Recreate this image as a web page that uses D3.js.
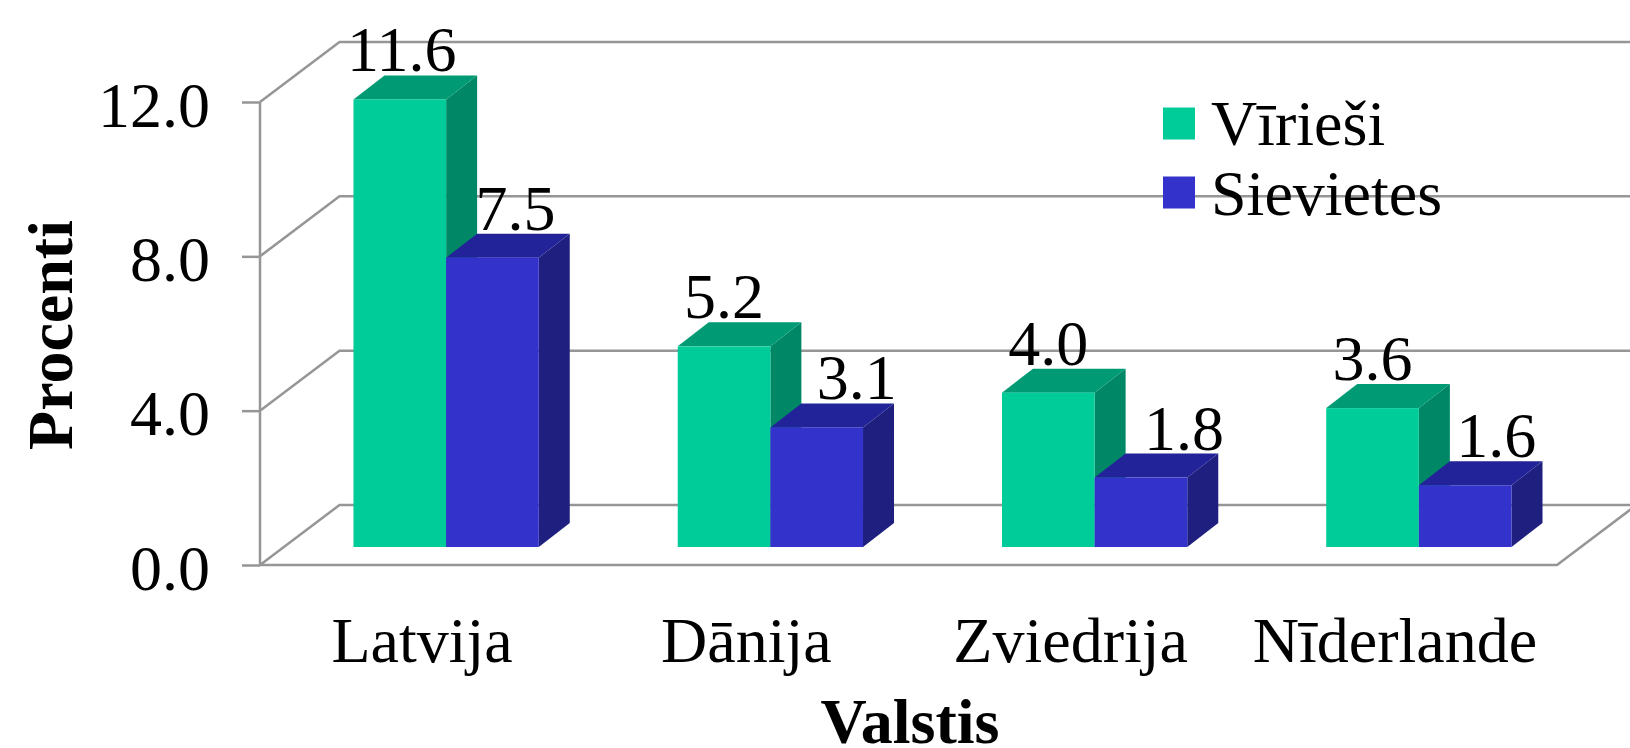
<!DOCTYPE html>
<html><head><meta charset="utf-8">
<script src="https://cdn.jsdelivr.net/npm/d3@7"></script>
<style>html,body{margin:0;padding:0;background:#fff;overflow:hidden}svg{display:block}text{font-family:"Liberation Serif","Times New Roman",serif;fill:#000}</style>
</head><body>
<script>
const categories = ["Latvija","Dānija","Zviedrija","Nīderlande"];
const seriesNames = ["Vīrieši","Sievietes"];
const virieši = [11.6,5.2,4.0,3.6];
const sievietes = [7.5,3.1,1.8,1.6];
const yTicks = [0,4,8,12];

const W=1630,H=748;
const fs=64;
const palette=[{front:"#00CC99",side:"#008866",top:"#009A74"},{front:"#3333CC",side:"#1F1F80",top:"#232399"}];
const grid="#969696";
const wall={dx:79.5,dy:-60};
const plane={dx:24,dy:-18};
const bar={dx:31,dy:-24};
const nudge=[[2,23],[0,40],[0,43],[0,31]];

const svg=d3.select("body").append("svg").attr("width",W).attr("height",H);
const y=d3.scaleLinear().domain([0,12]).range([565,102]);
const xAxisScale=d3.scaleBand().domain(categories).range([260,1557]);
const x0=d3.scaleBand().domain(categories).range([260+plane.dx,1557+plane.dx]).paddingInner(3/7).paddingOuter(3/14);
const x1=d3.scaleBand().domain(seriesNames).range([0,x0.bandwidth()]);

// walls and grid
const g=svg.append("g").attr("fill","none").attr("stroke",grid).attr("stroke-width",2.5);
const path=d3.path();
yTicks.forEach(t=>{
  path.moveTo(260,y(t));path.lineTo(260+wall.dx,y(t)+wall.dy);path.lineTo(W,y(t)+wall.dy);
});
path.moveTo(260,y(12));path.lineTo(260,y(0));path.lineTo(1557,y(0));path.lineTo(1557+wall.dx,y(0)+wall.dy);
g.append("path").attr("d",path.toString());

// y axis
const ya=svg.append("g").attr("transform","translate(260,0)")
  .call(d3.axisLeft(y).tickValues(yTicks).tickSize(18).tickPadding(32).tickFormat(d=>d.toFixed(1)));
ya.select(".domain").remove();
ya.selectAll("line").attr("stroke",grid).attr("stroke-width",2.5);
ya.selectAll("text").attr("font-size",fs).attr("dy",24).style("font-family",'"Liberation Serif"').attr("fill","#000");

// bars
const series=[virieši,sievietes];
series.forEach((vals,si)=>{
  const c=palette[si];
  const gs=svg.append("g");
  categories.forEach((cat,i)=>{
    const v=vals[i];
    const xl=x0(cat)+x1(seriesNames[si]),w=x1.bandwidth();
    const base=y(0)+plane.dy,top=y(v)+plane.dy;
    const cell=gs.append("g");
    cell.append("polygon").attr("fill",c.side).attr("points",[[xl+w,top],[xl+w+bar.dx,top+bar.dy],[xl+w+bar.dx,base+bar.dy],[xl+w,base]].join(" "));
    cell.append("polygon").attr("fill",c.top).attr("points",[[xl,top],[xl+bar.dx,top+bar.dy],[xl+w+bar.dx,top+bar.dy],[xl+w,top]].join(" "));
    cell.append("rect").attr("x",xl).attr("y",top).attr("width",w).attr("height",base-top).attr("fill",c.front);
  });
});
// values
series.forEach((vals,si)=>{
  categories.forEach((cat,i)=>{
    const xl=x0(cat)+x1(seriesNames[si]),w=x1.bandwidth();
    svg.append("text").attr("x",xl+w/2+nudge[i][si]).attr("y",y(vals[i])+plane.dy-28)
      .attr("text-anchor","middle").attr("font-size",fs).text(vals[i].toFixed(1));
  });
});

// category labels
categories.forEach(cat=>{
  svg.append("text").attr("x",xAxisScale(cat)+xAxisScale.bandwidth()/2).attr("y",662)
    .attr("text-anchor","middle").attr("font-size",fs).text(cat);
});

// legend
const ly=[107.5,176.5],lb=[145,215];
seriesNames.forEach((n,i)=>{
  svg.append("rect").attr("x",1163).attr("y",ly[i]).attr("width",32).attr("height",32).attr("fill",palette[i].front);
  svg.append("text").attr("x",1211).attr("y",lb[i]).attr("font-size",fs).text(n);
});

// titles
svg.append("text").attr("x",910).attr("y",743).attr("text-anchor","middle").attr("font-size",fs).attr("font-weight","bold").text("Valstis");
svg.append("text").attr("transform","translate(71.5,335) rotate(-90)").attr("text-anchor","middle").attr("font-size",fs).attr("font-weight","bold").text("Procenti");
</script>
</body></html>
